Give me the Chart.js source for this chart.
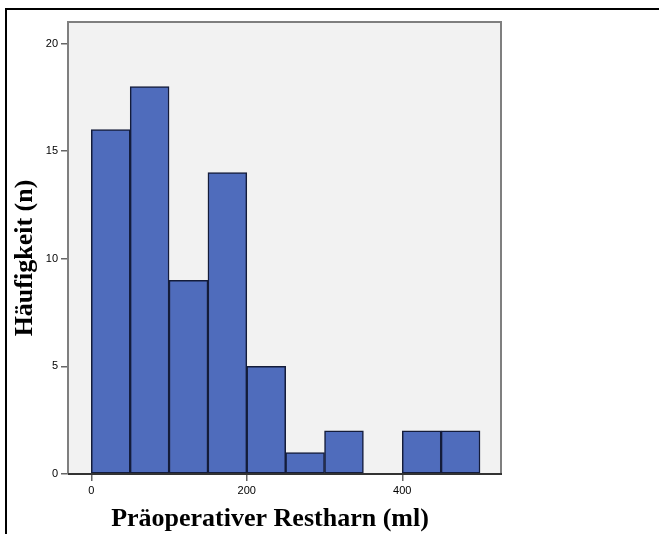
<!DOCTYPE html>
<html>
<head>
<meta charset="utf-8">
<script src="https://cdn.jsdelivr.net/npm/chart.js@4.4.1/dist/chart.umd.min.js"></script>
<style>
  body { margin: 0; background: #ffffff; }
  canvas { display: block; }
</style>
</head>
<body>
<canvas id="histChart" width="659" height="534"></canvas>
<script>
/* histogram data, bins of 50 ml */
var binCenters = [25, 75, 125, 175, 225, 275, 325, 375, 425, 475];
var counts = [16, 18, 9, 14, 5, 1, 2, 0, 2, 2];
var xTicks = [0, 200, 400];
var yTicks = [0, 5, 10, 15, 20];
var xTitle = 'Präoperativer Restharn (ml)';
var yTitle = 'Häufigkeit (n)';

var points = binCenters.map(function(c, i) { return { x: c, y: counts[i] }; });

// background, outer frame lines, plot frame and the two axis titles
var framePlugin = {
  id: 'framePlugin',
  beforeDraw: function(chart) {
    var ctx = chart.ctx, a = chart.chartArea;
    ctx.save();
    ctx.fillStyle = '#ffffff';
    ctx.fillRect(0, 0, chart.width, chart.height);
    ctx.fillStyle = '#f2f2f2';
    ctx.fillRect(a.left, a.top, a.right - a.left, a.bottom - a.top);
    ctx.strokeStyle = '#000000';
    ctx.lineWidth = 2;
    ctx.beginPath();
    ctx.moveTo(6, chart.height);
    ctx.lineTo(6, 9);
    ctx.lineTo(chart.width, 9);
    ctx.stroke();
    ctx.restore();
  },
  afterDatasetsDraw: function(chart) {
    var ctx = chart.ctx, a = chart.chartArea;
    ctx.save();
    ctx.strokeStyle = '#7f7f7f';
    ctx.lineWidth = 2;
    ctx.beginPath();
    ctx.moveTo(a.left, a.bottom);
    ctx.lineTo(a.left, a.top);
    ctx.lineTo(a.right, a.top);
    ctx.lineTo(a.right, a.bottom);
    ctx.stroke();
    ctx.strokeStyle = '#333333';
    ctx.beginPath();
    ctx.moveTo(a.left, a.bottom);
    ctx.lineTo(a.right + 1, a.bottom);
    ctx.stroke();
    ctx.restore();
  },
  afterDraw: function(chart) {
    var ctx = chart.ctx;
    ctx.save();
    ctx.fillStyle = '#000000';
    ctx.font = 'bold 26px "Liberation Serif", "Times New Roman", serif';
    ctx.textAlign = 'center';
    ctx.textBaseline = 'middle';
    ctx.fillText(xTitle, 270, 519);
    ctx.translate(25, 258);
    ctx.rotate(-Math.PI / 2);
    ctx.fillText(yTitle, 0, 0);
    ctx.restore();
  }
};

var ctx = document.getElementById('histChart').getContext('2d');
var histChart = new Chart(ctx, {
  type: 'bar',
  data: {
    datasets: [{
      label: yTitle,
      data: points,
      backgroundColor: '#4f6cbc',
      borderColor: '#141c3a',
      borderWidth: 1.5,
      borderSkipped: false,
      barPercentage: 1,
      categoryPercentage: 1
    }]
  },
  options: {
    responsive: false,
    animation: false,
    devicePixelRatio: 1,
    layout: { padding: { left: 0, top: 22, right: 158, bottom: 0 } },
    plugins: {
      legend: { display: false },
      tooltip: { enabled: false }
    },
    scales: {
      x: {
        type: 'linear',
        min: -30,
        max: 527,
        offset: false,
        afterBuildTicks: function(scale) {
          scale.ticks = xTicks.map(function(v) { return { value: v }; });
        },
        afterFit: function(scale) { scale.height = 60; },
        grid: { offset: false, drawOnChartArea: false, drawTicks: true, tickLength: 7, color: '#666666', lineWidth: 1.5 },
        border: { display: false },
        ticks: { color: '#000000', padding: 3, font: { family: '"Liberation Sans", Arial, sans-serif', size: 11 } }
      },
      y: {
        min: 0,
        max: 21,
        afterBuildTicks: function(scale) {
          scale.ticks = yTicks.map(function(v) { return { value: v }; });
        },
        afterFit: function(scale) { scale.width = 68; },
        grid: { drawOnChartArea: false, drawTicks: true, tickLength: 7, color: '#666666', lineWidth: 1.5 },
        border: { display: false },
        ticks: { color: '#000000', padding: 3, font: { family: '"Liberation Sans", Arial, sans-serif', size: 11 } }
      }
    }
  },
  plugins: [framePlugin]
});
</script>
</body>
</html>
